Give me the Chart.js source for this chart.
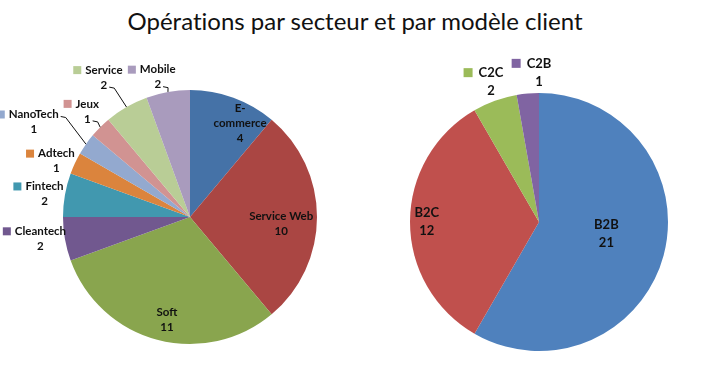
<!DOCTYPE html>
<html>
<head>
<meta charset="utf-8">
<script src="https://cdn.jsdelivr.net/npm/chart.js@4"></script>
<style>
  body { margin: 0; background: #fff; }
  #wrap { position: relative; width: 710px; height: 375px; }
  canvas { position: absolute; left: 0; top: 0; }
  #title { position: absolute; left: 0; top: 6px; width: 710px; text-align: center;
           font: 24px Lato, sans-serif; color: #111; font-variant-ligatures: none; }
</style>
</head>
<body>
<div id="wrap">
  <div id="title">Opérations par secteur et par modèle client</div>
  <canvas id="chart-secteur" width="710" height="375"></canvas>
  <canvas id="chart-modele" width="710" height="375"></canvas>
</div>
<script>
var secteurs = ['E-commerce', 'Service Web', 'Soft', 'Cleantech', 'Fintech', 'Adtech', 'NanoTech', 'Jeux', 'Service', 'Mobile'];
var secteurValeurs = [4, 10, 11, 2, 2, 1, 1, 1, 2, 2];
var modeles = ['B2B', 'B2C', 'C2C', 'C2B'];
var modeleValeurs = [21, 12, 2, 1];

var secteurCouleurs = ['#4572A7', '#AA4643', '#89A54E', '#71588F', '#4198AF', '#DB843D', '#93A9CF', '#D19392', '#B9CD96', '#A99BBD'];
var modeleCouleurs = ['#4F81BD', '#C0504D', '#9BBB59', '#8064A2'];

// draws the data labels (name + value) Excel style, inside or outside with a key square
var pieLabels = {
  id: 'pieLabels',
  afterDatasetsDraw: function (chart, args, o) {
    var ctx = chart.ctx;
    var arcs = chart.getDatasetMeta(0).data;
    var ds = chart.data.datasets[0];
    ctx.save();
    ctx.font = 'bold ' + o.size + 'px Lato, sans-serif';
    ctx.strokeStyle = '#111';
    ctx.lineWidth = 1;
    ctx.textAlign = 'center';
    ctx.textBaseline = 'middle';
    arcs.forEach(function (arc, i) {
      var p = arc.getProps(['x', 'y', 'startAngle', 'endAngle', 'outerRadius'], true);
      var mid = (p.startAngle + p.endAngle) / 2;
      var a = mid + (o.shift[i] || 0) * Math.PI / 180;
      var r = p.outerRadius * o.dist[i];
      var cx = p.x + Math.cos(a) * r;
      var cy = p.y + Math.sin(a) * r;
      var name = chart.data.labels[i];
      var lines = o.wrap[i] ? name.replace('-', '-\n').split('\n') : [name];
      lines.push(String(ds.data[i]));
      var y0 = cy - (lines.length - 1) * o.lh / 2;
      ctx.fillStyle = '#111';
      lines.forEach(function (t, k) { ctx.fillText(t, cx, y0 + k * o.lh); });
      if (o.dist[i] > 1) {
        var w = ctx.measureText(lines[0]).width;
        ctx.fillStyle = ds.backgroundColor[i];
        ctx.fillRect(cx - w / 2 - o.gap - o.box, y0 - o.box / 2, o.box, o.box);
      }
      if (o.leader[i]) {
        var k = o.leader[i] === 2 ? 0 : lines.length - 1;
        var lw = ctx.measureText(lines[k]).width;
        var sx = cx + lw / 2 + 2, sy = y0 + k * o.lh + 2;
        var ex = p.x + Math.cos(mid) * p.outerRadius;
        var ey = p.y + Math.sin(mid) * p.outerRadius;
        ctx.beginPath();
        ctx.moveTo(sx, sy);
        ctx.lineTo(sx + 5, sy + 1);
        ctx.lineTo(ex, ey);
        ctx.stroke();
      }
    });
    ctx.restore();
  }
};

function pie(id, labels, values, colors, pad, labelOpts) {
  return new Chart(document.getElementById(id), {
    type: 'pie',
    data: {
      labels: labels,
      datasets: [{ data: values, backgroundColor: colors, borderWidth: 0, hoverOffset: 0 }]
    },
    options: {
      responsive: false,
      animation: false,
      events: [],
      layout: { padding: pad },
      plugins: {
        legend: { display: false },
        tooltip: { enabled: false },
        pieLabels: labelOpts
      }
    },
    plugins: [pieLabels]
  });
}

pie('chart-secteur', secteurs, secteurValeurs, secteurCouleurs,
  { left: 63, right: 393, top: 90, bottom: 31 },
  {
    size: 11.5, lh: 15, box: 8, gap: 4,
    dist:  [0.84, 0.72, 0.83, 1.19, 1.16, 1.14, 1.44, 1.16, 1.29, 1.13],
    shift: [8, 4, -2.4, 1.7, -1, -2.3, -3.7, 0.8, -1.7, -3],
    wrap:  [true, false, false, false, false, false, false, false, false, false],
    leader: [0, 0, 0, 0, 0, 0, 2, 1, 1, 1]
  });

pie('chart-modele', modeles, modeleValeurs, modeleCouleurs,
  { left: 410, right: 42, top: 93, bottom: 24 },
  {
    size: 13, lh: 18, box: 9, gap: 6,
    dist:  [0.53, 0.87, 1.15, 1.16],
    shift: [-5.3, 0, 1.1, 5],
    wrap:  [false, false, false, false],
    leader: [0, 0, 0, 0]
  });
</script>
</body>
</html>
